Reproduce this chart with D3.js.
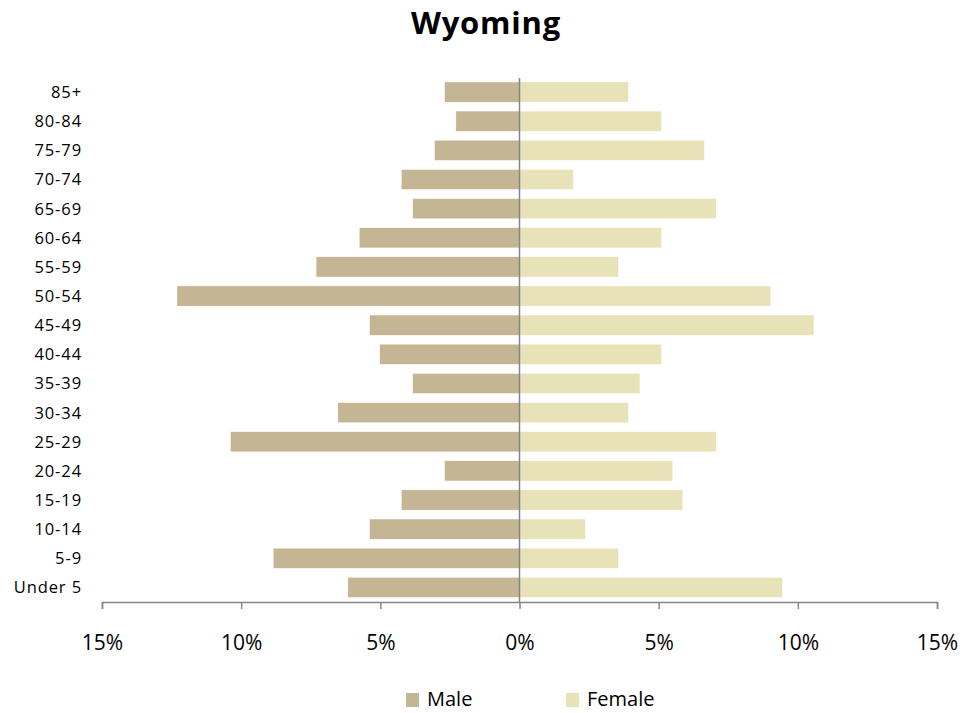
<!DOCTYPE html>
<html>
<head>
<meta charset="utf-8">
<script src="https://cdn.jsdelivr.net/npm/d3@7"></script>
<style>
  body { margin: 0; background: #fff; }
  svg { font-family: "Open Sans", Carlito, Lato, sans-serif; }
</style>
</head>
<body>
<svg id="chart" width="979" height="713"></svg>
<script>
// Wyoming population pyramid

const ageGroups = ['85+', '80-84', '75-79', '70-74', '65-69', '60-64', '55-59', '50-54', '45-49',
  '40-44', '35-39', '30-34', '25-29', '20-24', '15-19', '10-14', '5-9', 'Under 5'];
const male = [2.70, 2.29, 3.06, 4.25, 3.84, 5.76, 7.31, 12.31, 5.39,
  5.03, 3.84, 6.53, 10.39, 2.70, 4.25, 5.39, 8.85, 6.17];
const female = [3.92, 5.11, 6.65, 1.94, 7.07, 5.11, 3.56, 9.03, 10.58,
  5.11, 4.33, 3.92, 7.07, 5.51, 5.87, 2.37, 3.56, 9.45];
const xTicks = [-15, -10, -5, 0, 5, 10, 15];

const maleColor = '#c4b594';
const femaleColor = '#e8e2b8';
const axisColor = '#868686';

const svg = d3.select('#chart');

const x = d3.scaleLinear().domain([-15, 15]).range([102, 937]);
const y = d3.scaleBand().domain(ageGroups).range([77.5, 602]).paddingInner(0.3).paddingOuter(0.15);

// title
svg.append('text')
  .attr('x', 486).attr('y', 34)
  .attr('text-anchor', 'middle')
  .style('font-size', '31px').style('font-weight', 'bold')
  .style('letter-spacing', '0.8px')
  .text('Wyoming');

// bars
svg.append('g').selectAll('rect')
  .data(ageGroups)
  .join('rect')
    .attr('x', (d, i) => x(-male[i]))
    .attr('y', d => y(d))
    .attr('width', (d, i) => x(0) - x(-male[i]))
    .attr('height', y.bandwidth())
    .attr('fill', maleColor)
    .attr('stroke', '#fff').attr('stroke-width', 0.6);

svg.append('g').selectAll('rect')
  .data(ageGroups)
  .join('rect')
    .attr('x', x(0))
    .attr('y', d => y(d))
    .attr('width', (d, i) => x(female[i]) - x(0))
    .attr('height', y.bandwidth())
    .attr('fill', femaleColor)
    .attr('stroke', '#fff').attr('stroke-width', 0.6);

// center line
svg.append('line')
  .attr('x1', x(0)).attr('x2', x(0))
  .attr('y1', 78).attr('y2', 602)
  .attr('stroke', axisColor).attr('stroke-width', 1.5);

// x axis
const xAxis = svg.append('g')
  .attr('transform', 'translate(0,602)')
  .call(d3.axisBottom(x).tickValues(xTicks).tickSize(7).tickSizeOuter(7)
    .tickFormat(d => Math.abs(d) + '%'));
xAxis.select('.domain').attr('stroke', axisColor).attr('stroke-width', 1.5);
xAxis.selectAll('.tick line').attr('stroke', axisColor).attr('stroke-width', 1.5);
xAxis.selectAll('.tick text')
  .attr('y', 48)
  .attr('dy', 0)
  .attr('fill', '#000')
  .style('font-size', '21px')
  .style('font-family', '"Open Sans", Carlito, Lato, sans-serif');

// y labels
svg.append('g').selectAll('text')
  .data(ageGroups)
  .join('text')
    .attr('x', 82)
    .attr('y', d => y(d) + y.bandwidth() / 2)
    .attr('dy', '0.36em')
    .attr('text-anchor', 'end')
    .style('font-size', '16.5px')
    .style('letter-spacing', '0.9px')
    .text(d => d);

// legend
const legendItems = [
  { name: 'Male', color: maleColor, x: 406 },
  { name: 'Female', color: femaleColor, x: 566 }
];
const legend = svg.append('g').selectAll('g')
  .data(legendItems)
  .join('g')
    .attr('transform', d => `translate(${d.x},693)`);
legend.append('rect')
  .attr('width', 13).attr('height', 14)
  .attr('fill', d => d.color);
legend.append('text')
  .attr('x', 21).attr('y', 13)
  .style('font-size', '20px')
  .text(d => d.name);
</script>
</body>
</html>
